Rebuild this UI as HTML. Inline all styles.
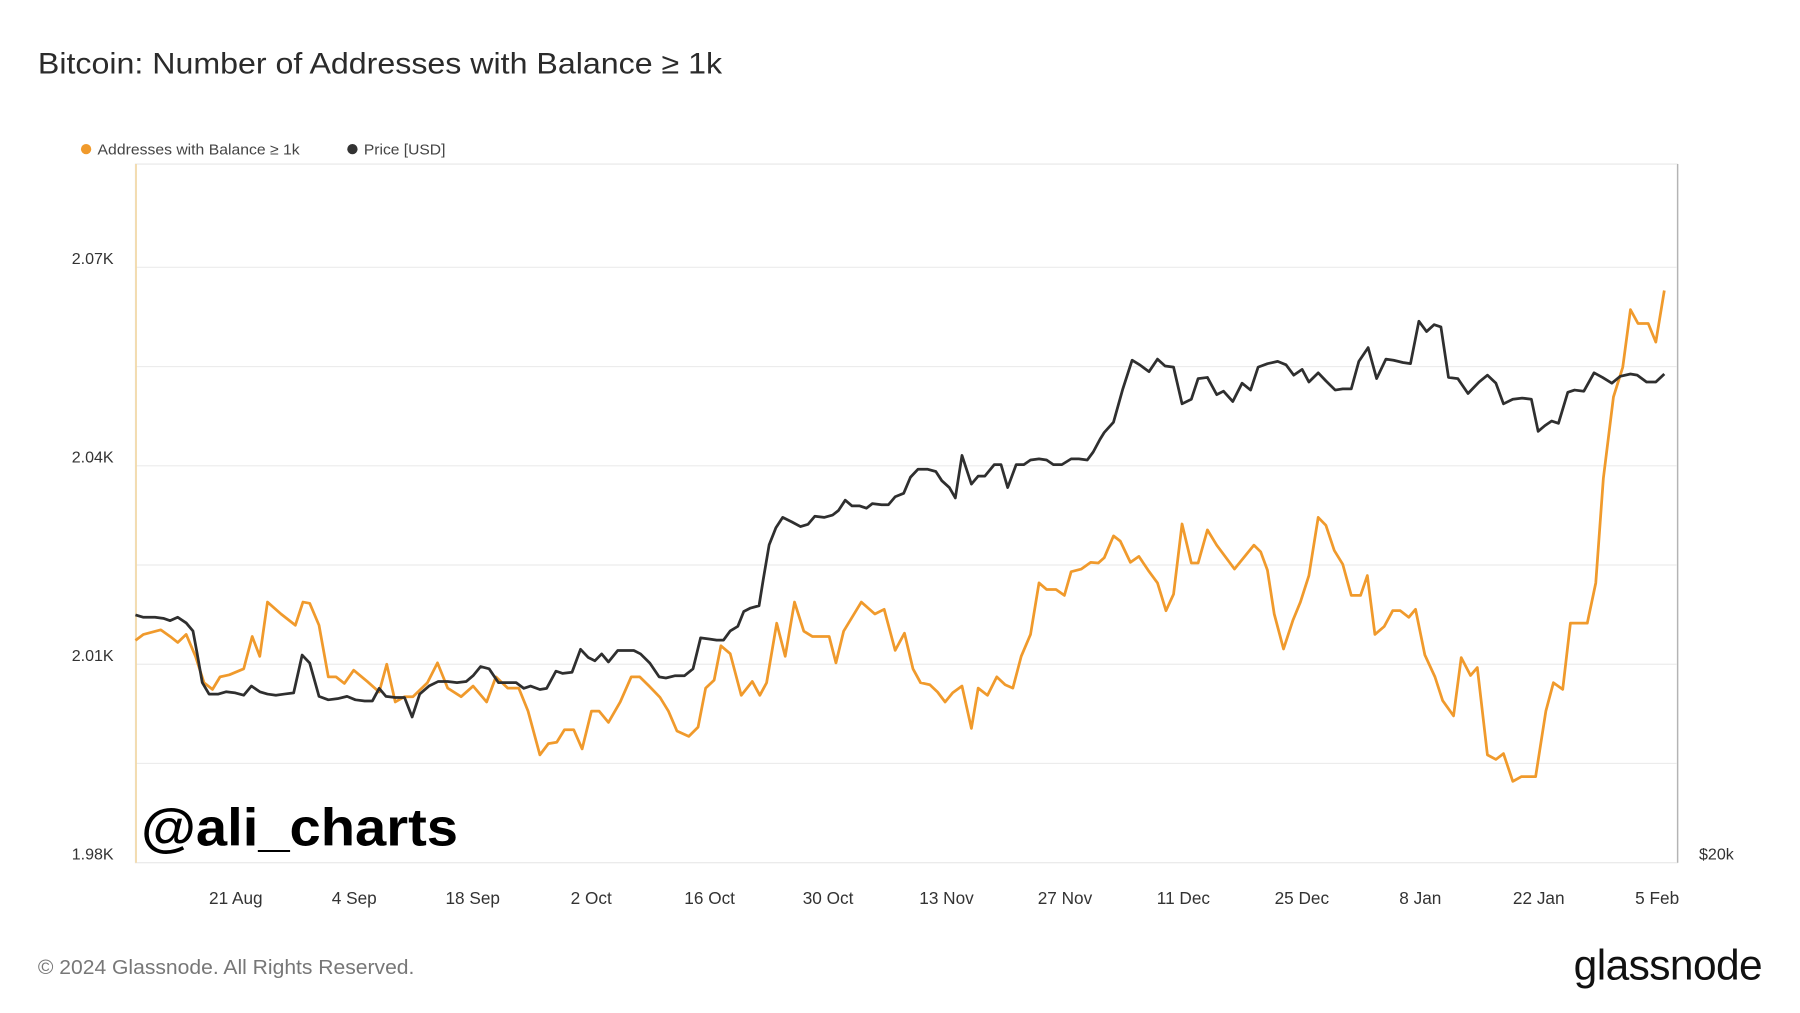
<!DOCTYPE html>
<html><head><meta charset="utf-8"><style>
html,body{margin:0;padding:0;background:#fff;}
svg{display:block;font-family:"Liberation Sans",sans-serif;}
</style></head><body>
<svg id="chart" width="1800" height="1013" viewBox="0 0 1568 883" preserveAspectRatio="none" xmlns="http://www.w3.org/2000/svg">
<rect x="0" y="0" width="1568" height="883" fill="#fff"/>
<text x="33" y="64" font-size="25.5" fill="#2b2b2b" textLength="596" lengthAdjust="spacingAndGlyphs">Bitcoin: Number of Addresses with Balance ≥ 1k</text>
<g>
<circle cx="75" cy="130" r="4.5" fill="#f09a2c"/>
<text x="85" y="134.5" font-size="13" fill="#444" textLength="176" lengthAdjust="spacingAndGlyphs">Addresses with Balance ≥ 1k</text>
<circle cx="307" cy="130" r="4.5" fill="#333"/>
<text x="317" y="134.5" font-size="13" fill="#444" textLength="71" lengthAdjust="spacingAndGlyphs">Price [USD]</text>
</g>
<rect x="118" y="143" width="1343" height="609" fill="none" stroke="#e8e8e8" stroke-width="1"/>
<g id="grid"></g>
<g id="yaxis"></g>
<g id="xaxis"></g>
<line x1="118.5" y1="143" x2="118.5" y2="752" stroke="#f3d9a8" stroke-width="1.5"/>
<line x1="1461.5" y1="143" x2="1461.5" y2="752" stroke="#aaa" stroke-width="1"/>
<text x="1480" y="749" font-size="14" fill="#333">$20k</text>
<g id="series"></g>
<text x="123" y="737" font-size="46" font-weight="bold" fill="#000" textLength="276" lengthAdjust="spacingAndGlyphs">@ali_charts</text>
<text x="33" y="849" font-size="18" fill="#777" textLength="328" lengthAdjust="spacingAndGlyphs">© 2024 Glassnode. All Rights Reserved.</text>
<text x="1535" y="854" font-size="37" fill="#111" text-anchor="end" letter-spacing="-0.5">glassnode</text>
</svg>
<script>
const yTicks=[1980,1995,2010,2025,2040,2055,2070];
const yTickLabels=["1.98K","","2.01K","","2.04K","","2.07K"];
const xTickDays=[12,26,40,54,68,82,96,110,124,138,152,166,180];
const xTickLabels=["21 Aug","4 Sep","18 Sep","2 Oct","16 Oct","30 Oct","13 Nov","27 Nov","11 Dec","25 Dec","8 Jan","22 Jan","5 Feb"];
const addrDays=[0,0.95,3,4.1,5,6,7.1,8.1,9.1,10,11.1,12.8,13.8,14.7,15.6,17.2,18.9,19.8,20.6,21.7,22.8,23.7,24.7,25.8,27.4,28.8,29.7,30.7,31.8,32.8,34.5,35.7,36.9,38.5,39.9,41.5,42.6,44,45.3,46.4,47.8,48.8,49.8,50.7,51.8,52.8,53.9,54.8,55.9,57.3,58.6,59.6,60.7,62,63,64,65.4,66.5,67.4,68.4,69.2,70.3,71.6,72.9,73.8,74.6,75.8,76.8,77.9,79,80,82,82.8,83.7,85.8,87.4,88.5,89.8,90.9,91.9,92.8,93.9,94.8,95.7,96.6,97.7,98.8,99.6,100.7,101.8,102.8,103.7,104.7,105.8,106.8,107.7,108.8,109.8,110.6,111.8,112.9,113.8,114.5,115.6,116.4,117.6,118.6,119.7,120.8,121.8,122.7,123.7,124.8,125.6,126.7,127.8,129.9,132.2,133,133.8,134.6,135.7,136.8,137.7,138.7,139.8,140.7,141.7,142.7,143.7,144.8,145.6,146.5,147.6,148.6,149.5,150.5,151.3,152.4,153.6,154.5,155.8,156.7,157.8,158.6,159.8,160.8,161.7,162.8,163.8,165.5,166.7,167.6,168.7,169.6,171.6,172.6,173.5,174.7,175.8,176.7,177.6,178.8,179.7,180.7];
const addrValues=[2013.6,2014.5,2015.2,2014.2,2013.3,2014.5,2011.2,2007.2,2006.2,2008.1,2008.4,2009.3,2014.2,2011.2,2019.4,2017.6,2015.9,2019.4,2019.2,2015.9,2008.1,2008.1,2007.1,2009.1,2007.4,2005.8,2010.0,2004.3,2005.1,2005.1,2007.2,2010.2,2006.4,2005.1,2006.7,2004.3,2008.1,2006.4,2006.4,2002.9,1996.3,1998.0,1998.2,2000.1,2000.1,1997.2,2002.9,2002.9,2001.2,2004.3,2008.1,2008.1,2006.7,2005.0,2002.9,1999.9,1999.1,2000.5,2006.4,2007.6,2012.8,2011.6,2005.3,2007.4,2005.3,2007.2,2016.2,2011.2,2019.4,2015.0,2014.2,2014.2,2010.2,2015.0,2019.4,2017.6,2018.3,2012.1,2014.7,2009.3,2007.2,2006.9,2005.8,2004.3,2005.7,2006.7,2000.3,2006.4,2005.3,2008.1,2006.9,2006.4,2011.2,2014.5,2022.3,2021.3,2021.3,2020.4,2024.0,2024.4,2025.4,2025.3,2026.1,2029.4,2028.6,2025.4,2026.3,2024.2,2022.3,2018.1,2020.6,2031.2,2025.3,2025.3,2030.3,2028.0,2024.4,2028.0,2027.0,2024.2,2017.6,2012.3,2016.6,2019.4,2023.4,2032.2,2031.0,2027.2,2025.1,2020.4,2020.4,2023.4,2014.5,2015.7,2018.1,2018.1,2017.1,2018.3,2011.4,2008.1,2004.5,2002.2,2011.0,2008.3,2009.5,1996.3,1995.6,1996.5,1992.3,1993.0,1993.0,2002.9,2007.2,2006.2,2016.2,2016.2,2022.3,2038.1,2050.4,2054.9,2063.6,2061.5,2061.5,2058.7,2066.5];
const priceDays=[0,0.9,2.3,3.3,4.1,5,6,6.8,7.3,7.9,8.7,9.8,10.7,11.8,12.8,13.7,14.7,15.6,16.6,17.6,18.7,19.7,20.6,21.7,22.8,23.9,25,26,27.1,28,28.8,29.6,30.7,31.8,32.7,33.6,34.7,35.8,36.9,38,39.1,39.9,40.8,41.8,42.9,44,45,45.9,46.7,47.8,48.6,49.7,50.5,51.6,52.6,53.5,54.3,55.1,55.9,57,57.8,58.9,59.7,60.8,61.9,62.7,63.8,64.9,65.9,66.8,67.8,68.7,69.5,70.3,71.2,71.9,72.7,73.7,74.2,74.9,75.7,76.5,77.6,78.6,79.5,80.3,81.4,82.4,83.1,83.9,84.7,85.6,86.4,87.1,88.2,89,89.8,90.8,91.6,92.5,93.6,94.6,95.3,96.2,96.9,97.7,98.8,99.6,100.4,101.5,102.3,103.1,104.1,105,105.8,106.8,107.7,108.5,109.5,110.6,111.5,112.5,113.2,114,114.5,115.6,116.7,117.8,118.7,119.8,120.8,121.7,122.7,123.7,124.8,125.6,126.7,127.8,128.6,129.7,130.8,131.8,132.7,133.8,135,136,136.9,137.9,138.7,139.8,140.7,141.8,142.7,143.7,144.6,145.7,146.7,147.8,148.7,149.8,150.7,151.7,152.6,153.5,154.3,155.2,156.3,157.5,158.8,159.8,160.8,161.7,162.8,163.9,165,165.8,166.6,167.4,168.2,169.3,170.1,171.2,172.4,173.4,174.5,175.5,176.7,177.5,178.6,179.7,180.7];
const priceValues=[30.8,30.7,30.7,30.65,30.55,30.7,30.45,30.1,29.1,27.85,27.35,27.35,27.45,27.4,27.3,27.7,27.45,27.35,27.3,27.35,27.4,29.05,28.7,27.25,27.1,27.15,27.25,27.1,27.05,27.05,27.6,27.25,27.2,27.2,26.35,27.35,27.7,27.9,27.9,27.85,27.9,28.15,28.55,28.45,27.85,27.85,27.85,27.6,27.7,27.55,27.6,28.35,28.25,28.3,29.3,28.95,28.8,29.1,28.75,29.25,29.25,29.25,29.1,28.7,28.1,28.05,28.15,28.15,28.45,29.8,29.75,29.7,29.7,30.1,30.3,30.95,31.1,31.2,32.35,33.85,34.6,35.05,34.85,34.65,34.75,35.1,35.05,35.15,35.35,35.8,35.55,35.55,35.45,35.65,35.6,35.6,35.95,36.1,36.8,37.15,37.15,37.05,36.65,36.35,35.9,37.75,36.5,36.85,36.85,37.35,37.35,36.35,37.35,37.35,37.55,37.6,37.55,37.35,37.35,37.6,37.6,37.55,37.9,38.45,38.75,39.2,40.65,41.9,41.7,41.4,41.95,41.65,41.6,40.0,40.2,41.1,41.15,40.4,40.55,40.1,40.9,40.6,41.6,41.75,41.85,41.7,41.25,41.5,40.95,41.35,41.0,40.6,40.65,40.65,41.85,42.45,41.1,41.95,41.9,41.8,41.75,43.6,43.15,43.45,43.35,41.15,41.1,40.45,40.95,41.25,40.9,40.0,40.2,40.25,40.2,38.8,39.05,39.25,39.15,40.5,40.6,40.55,41.35,41.15,40.9,41.2,41.3,41.25,40.95,40.95,41.3];

const NS="http://www.w3.org/2000/svg";
const X0=118,PXDAY=7.37,YB=752,PXUNIT=173/30;
function xs(d){return X0+d*PXDAY;}
function ya(v){return YB-(v-1980)*PXUNIT;}
function yp(p){return YB-(p-20)*20;}
const grid=document.getElementById('grid'),yax=document.getElementById('yaxis'),xax=document.getElementById('xaxis'),ser=document.getElementById('series');
yTicks.forEach((t,i)=>{
  const y=ya(t);
  if(i>0){const l=document.createElementNS(NS,'line');
    
    
    l.setAttribute('x1',X0);l.setAttribute('x2',1461);l.setAttribute('y1',y);l.setAttribute('y2',y);
    l.setAttribute('stroke','#ececec');l.setAttribute('stroke-width','1');grid.appendChild(l);}
  if(yTickLabels[i]){const tx=document.createElementNS(NS,'text');
    
    
    tx.setAttribute('x',99);tx.setAttribute('y',y-3);tx.setAttribute('text-anchor','end');
    tx.setAttribute('font-size','14');tx.setAttribute('fill','#333');tx.textContent=yTickLabels[i];yax.appendChild(tx);}
});
xTickDays.forEach((d,i)=>{
  const tx=document.createElementNS(NS,'text');
  
  
  tx.setAttribute('x',xs(d)-1);tx.setAttribute('y',788);tx.setAttribute('text-anchor','middle');
  tx.setAttribute('font-size','15');tx.setAttribute('fill','#333');tx.textContent=xTickLabels[i];xax.appendChild(tx);
});
function line(days,vals,yf,color,name){
  const p=document.createElementNS(NS,'path');
  
  
  p.setAttribute('d',days.map((d,i)=>(i?'L':'M')+xs(d).toFixed(1)+','+yf(vals[i]).toFixed(1)).join(''));
  p.setAttribute('fill','none');p.setAttribute('stroke',color);p.setAttribute('stroke-width','2.4');
  p.setAttribute('stroke-linejoin','round');ser.appendChild(p);
}
line(addrDays,addrValues,ya,'#f09a2c','addresses-line');
line(priceDays,priceValues,yp,'#2f2f2f','price-line');
</script>
</body></html>
